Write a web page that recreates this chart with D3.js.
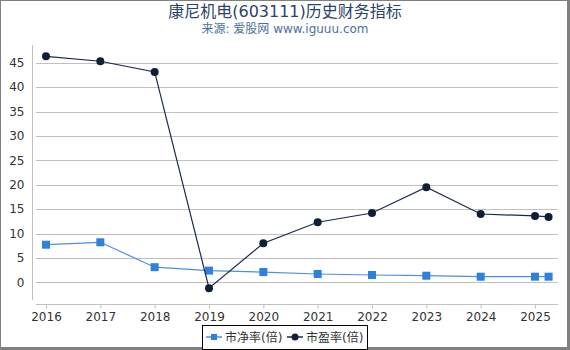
<!DOCTYPE html>
<html lang="zh">
<head>
<meta charset="UTF-8">
<title>康尼机电历史财务指标</title>
<script src="https://cdn.jsdelivr.net/npm/d3@7"></script>
<style>
  body { margin: 0; background: #fff; }
  text { font-family: "DejaVu Sans", "Noto Sans CJK SC", sans-serif; }
</style>
</head>
<body>
<svg id="chart" width="570" height="350"></svg>
<script>
const years = [2016, 2017, 2018, 2019, 2020, 2021, 2022, 2023, 2024, 2025, 2025.25];
const pbValues = [7.7, 8.2, 3.1, 2.4, 2.1, 1.7, 1.5, 1.35, 1.15, 1.15, 1.15];
const peValues = [46.3, 45.3, 43.1, -1.2, 8.0, 12.3, 14.2, 19.5, 14.0, 13.6, 13.4];
const yTicks = [0, 5, 10, 15, 20, 25, 30, 35, 40, 45];
const xTicks = [2016, 2017, 2018, 2019, 2020, 2021, 2022, 2023, 2024, 2025];
const seriesNames = ['市净率(倍)', '市盈率(倍)'];

const svg = d3.select('#chart');
const W = 570, H = 350;

// 外框
svg.append('rect').attr('x', 0.5).attr('y', 0.5).attr('width', W - 2.5).attr('height', H - 3)
  .attr('fill', 'none').attr('stroke', '#808080').attr('stroke-width', 1);
svg.append('line').attr('x1', W - 1.5).attr('x2', W - 1.5).attr('y1', 0).attr('y2', H).attr('stroke', '#808080').attr('stroke-width', 3);
svg.append('line').attr('x1', 0).attr('x2', W).attr('y1', H - 1.5).attr('y2', H - 1.5).attr('stroke', '#808080').attr('stroke-width', 3);

// 标题
svg.append('text').attr('x', 285).attr('y', 17).attr('text-anchor', 'middle')
  .attr('font-size', 16).attr('fill', '#2b4466').text('康尼机电(603111)历史财务指标');
svg.append('text').attr('x', 285).attr('y', 33).attr('text-anchor', 'middle')
  .attr('font-size', 12).attr('fill', '#4d6f9c').text('来源: 爱股网 www.iguuu.com');

const x = d3.scaleLinear().domain([2016, 2025]).range([46, 535]);
const y = d3.scaleLinear().domain([0, 45]).range([282.3, 62.7]);

const plotLeft = 36, plotRight = 558;

// 网格线
svg.append('g').selectAll('line').data(yTicks).join('line')
  .attr('x1', plotLeft).attr('x2', plotRight)
  .attr('y1', d => Math.round(y(d)) + 0.5).attr('y2', d => Math.round(y(d)) + 0.5)
  .attr('stroke', '#c0c0c0').attr('stroke-width', 1);

// Y 轴
const yAxis = svg.append('g').attr('transform', 'translate(32.5,0)')
  .call(d3.axisLeft(y).tickValues(yTicks).tickSize(0).tickPadding(8));
yAxis.select('.domain').remove();
yAxis.append('line').attr('x1', 0).attr('x2', 0).attr('y1', 45).attr('y2', 300).attr('stroke', '#c0c0c0');
yAxis.selectAll('.tick text').attr('font-size', 12).attr('fill', '#333')
  .attr('font-family', '"DejaVu Sans", sans-serif');

// X 轴
const xAxis = svg.append('g').attr('transform', 'translate(0,304.5)')
  .call(d3.axisBottom(x).tickValues(xTicks).tickFormat(d3.format('d')).tickSize(4).tickPadding(4));
xAxis.select('.domain').remove();
xAxis.append('line').attr('x1', plotLeft).attr('x2', plotRight).attr('y1', 0).attr('y2', 0).attr('stroke', '#c0c0c0');
xAxis.selectAll('.tick line').attr('stroke', '#c0c0c0');
xAxis.selectAll('.tick text').attr('font-size', 12).attr('fill', '#333')
  .attr('font-family', '"DejaVu Sans", sans-serif');

const line = d3.line().x((d, i) => x(years[i])).y(d => y(d));

// 市净率
svg.append('path').datum(pbValues).attr('d', line)
  .attr('fill', 'none').attr('stroke', '#4a90e2').attr('stroke-width', 1.2);
svg.append('g').selectAll('rect').data(pbValues).join('rect')
  .attr('x', (d, i) => x(years[i]) - 4).attr('y', d => y(d) - 4)
  .attr('width', 8).attr('height', 8).attr('fill', '#2f7fdc');

// 市盈率
svg.append('path').datum(peValues).attr('d', line)
  .attr('fill', 'none').attr('stroke', '#1b2a44').attr('stroke-width', 1.2);
svg.append('g').selectAll('circle').data(peValues).join('circle')
  .attr('cx', (d, i) => x(years[i])).attr('cy', d => y(d)).attr('r', 4)
  .attr('fill', '#0f1f38');

// 图例
const lg = svg.append('g');
lg.append('rect').attr('x', 202.5).attr('y', 325.5).attr('width', 165).attr('height', 24)
  .attr('fill', '#fff').attr('stroke', '#000').attr('stroke-width', 1);
lg.append('line').attr('x1', 206).attr('x2', 222).attr('y1', 337).attr('y2', 337).attr('stroke', '#4a90e2').attr('stroke-width', 1.5);
lg.append('rect').attr('x', 211).attr('y', 334).attr('width', 6).attr('height', 6).attr('fill', '#2f7fdc');
lg.append('text').attr('x', 225).attr('y', 341.5).attr('font-size', 12).attr('fill', '#333').text(seriesNames[0]);
lg.append('line').attr('x1', 287).attr('x2', 303).attr('y1', 337).attr('y2', 337).attr('stroke', '#1b2a44').attr('stroke-width', 1.5);
lg.append('circle').attr('cx', 295).attr('cy', 337).attr('r', 3.5).attr('fill', '#0f1f38');
lg.append('text').attr('x', 306).attr('y', 341.5).attr('font-size', 12).attr('fill', '#333').text(seriesNames[1]);
</script>
</body>
</html>
